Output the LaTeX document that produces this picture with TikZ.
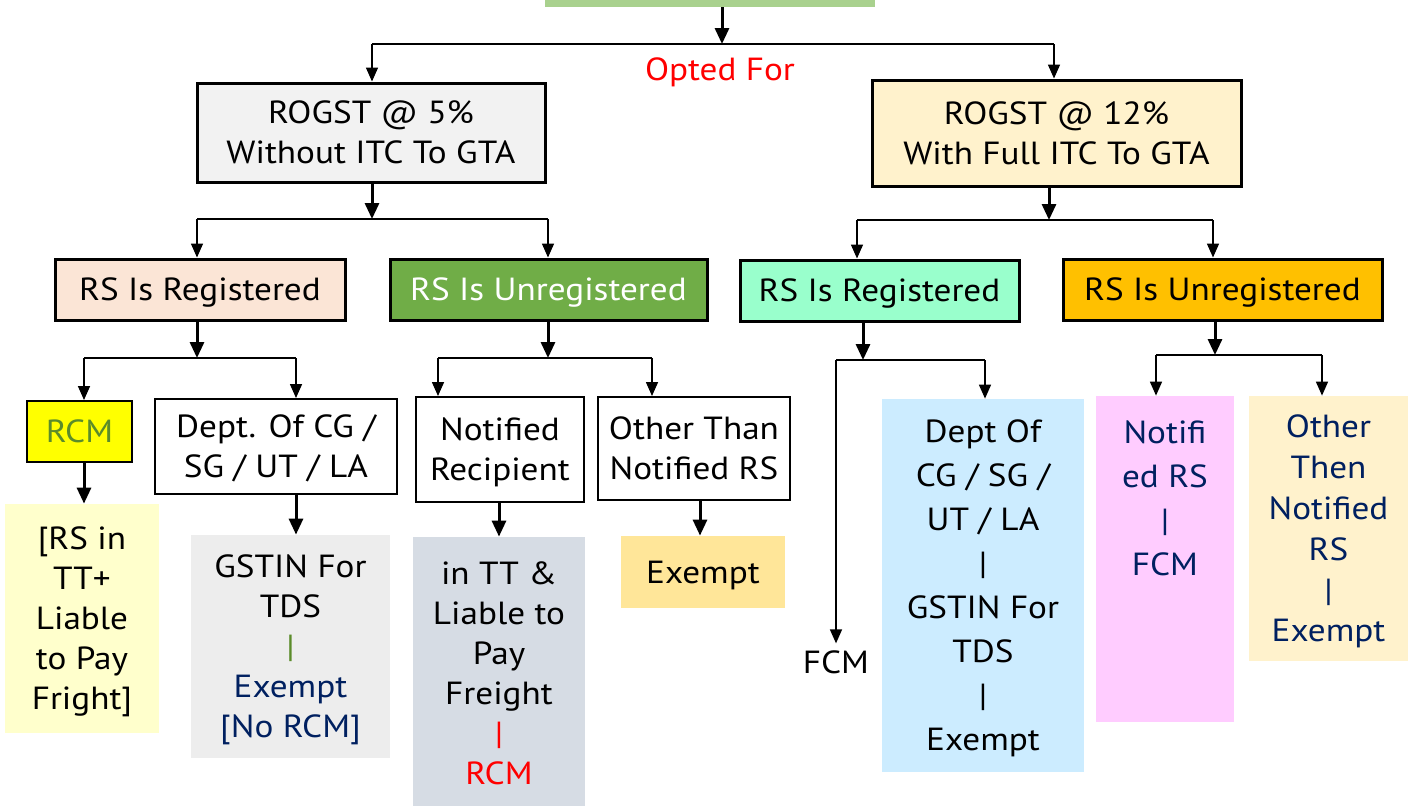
\documentclass[tikz,border=0pt]{standalone}
\usepackage{fontspec}
\setmainfont{PT Sans}[FakeStretch=1.1]
\usetikzlibrary{arrows.meta,calc}

\definecolor{topgreen}{HTML}{A9D18E}
\definecolor{boxgray}{HTML}{F2F2F2}
\definecolor{boxcream}{HTML}{FFF2CC}
\definecolor{peach}{HTML}{FBE5D6}
\definecolor{grass}{HTML}{70AD47}
\definecolor{mint}{HTML}{99FFCC}
\definecolor{amber}{HTML}{FFC000}
\definecolor{rcmyellow}{HTML}{FFFF00}
\definecolor{rcmgreen}{HTML}{5B8C2A}
\definecolor{paleyellow}{HTML}{FFFFCC}
\definecolor{lightgray}{HTML}{EDEDED}
\definecolor{slate}{HTML}{D6DCE4}
\definecolor{gold}{HTML}{FFE699}
\definecolor{sky}{HTML}{CCECFF}
\definecolor{pinkbox}{HTML}{FFCCFF}
\definecolor{navy}{HTML}{002060}

\newcommand{\txt}{\fontsize{16}{20}\selectfont}
\newcommand{\txtwide}{\fontsize{16}{22}\selectfont}

\begin{document}
\begin{tikzpicture}[x=0.5pt,y=-0.5pt,
  box/.style={draw=black, line width=1.5pt, inner sep=0pt, align=center, font=\txt, text depth=0pt},
  thinbox/.style={draw=black, line width=1pt, inner sep=0pt, align=center, font=\txt, text depth=0pt},
  leaf/.style={draw=none, inner sep=0pt, align=center, font=\txt, text depth=0pt},
  trunk/.style={line width=1.5pt, -{Triangle[width=7pt,length=8pt]}},
  branch/.style={line width=0.8pt},
  drop/.style={line width=0.8pt, -{Triangle[width=6pt,length=7pt]}}]

\useasboundingbox (0,0) rectangle (1415,805);
\begin{scope}
\clip (0,0) rectangle (1415,805);

% top-level box (cut by the page edge)
\node[fill=topgreen, minimum width=165pt, minimum height=13.5pt, inner sep=0pt] (top) at (710,-6.5) {};

% first level
\node[box, fill=boxgray, minimum width=174pt, minimum height=49.5pt] (r5) at (371,132.5) {ROGST @ 5\%\\Without ITC To GTA};
\node[box, fill=boxcream, minimum width=184.5pt, minimum height=53pt] (r12) at (1056.5,133) {ROGST @ 12\%\\With Full ITC To GTA};
\node[font=\txt, text=red] (opt) at (720,72) {Opted For};

% second level
\node[box, fill=peach, minimum width=145pt, minimum height=30.5pt] (regA) at (200,289.5) {RS Is Registered};
\node[box, fill=grass, text=white, minimum width=158.5pt, minimum height=30.5pt] (unregB) at (548.5,289.5) {RS Is Unregistered};
\node[box, fill=mint, minimum width=139.5pt, minimum height=30.5pt] (regC) at (879.5,290.5) {RS Is Registered};
\node[box, fill=amber, minimum width=159.5pt, minimum height=30.5pt] (unregD) at (1222.5,289.5) {RS Is Unregistered};

% third level (left half)
\node[thinbox, fill=rcmyellow, text=rcmgreen, minimum width=52.5pt, minimum height=30.5pt] (rcm) at (79.5,431.5) {RCM};
\node[thinbox, fill=white, minimum width=121pt, minimum height=47.5pt] (dept) at (276,446.5) {Dept. Of CG /\\SG / UT / LA};
\node[thinbox, fill=white, minimum width=84pt, minimum height=52.5pt] (notif) at (500,449.5) {Notified\\Recipient};
\node[thinbox, fill=white, minimum width=96pt, minimum height=51.5pt] (other) at (694,448.5) {Other Than\\Notified RS};

% outcomes (left half)
\node[leaf, fill=paleyellow, minimum width=77pt, minimum height=114.5pt] (rsin) at (82,618.5) {[RS in\\TT+\\Liable\\to Pay\\Fright]};
\node[leaf, fill=lightgray, minimum width=99.5pt, minimum height=111.5pt] (gstin) at (290.5,646.5)
  {GSTIN For\\TDS\\\textcolor{rcmgreen}{|}\\\textcolor{navy}{Exempt}\\\textcolor{navy}{[No RCM]}};
\node[leaf, fill=slate, minimum width=86pt, minimum height=136.5pt] (intt) at (499,673.5)
  {in TT \&\\Liable to\\Pay\\Freight\\\textcolor{red}{|}\\\textcolor{red}{RCM}};
\node[leaf, fill=gold, minimum width=82pt, minimum height=36pt] (ex1) at (703,572) {Exempt};

% outcomes (right half)
\node[font=\txt] (fcm) at (836,662) {FCM};
\node[leaf, font=\txtwide, fill=sky, minimum width=101pt, minimum height=186.5pt] (blue) at (983,585.5)
  {Dept Of\\CG / SG /\\UT / LA\\|\\GSTIN For\\TDS\\|\\Exempt};
\node[leaf, fill=pinkbox, minimum width=69pt, minimum height=163pt] (pink) at (1165,559) {};
\node[leaf, font=\txtwide, text=navy] (pinkt) at (1165,498) {Notifi\\ed RS\\|\\FCM};
\node[leaf, font=\fontsize{16}{20.4}\selectfont, fill=boxcream, text=navy, minimum width=79.5pt, minimum height=132.5pt] (cream) at (1328.5,528.5)
  {Other\\Then\\Notified\\RS\\|\\Exempt};

% junction points of the branch lines
\coordinate (jTop) at (722,44);
\coordinate (jR5) at (372,219);
\coordinate (jR12) at (1049,220);
\coordinate (jA) at (197,358);
\coordinate (jB) at (548,358);
\coordinate (jC) at (863,360);
\coordinate (jD) at (1215,355);
% x positions of the drops
\coordinate (xR5) at (372,0);
\coordinate (xR12) at (1054,0);
\coordinate (xA) at (197,0);
\coordinate (xB) at (548,0);
\coordinate (xC) at (857,0);
\coordinate (xD) at (1213,0);
\coordinate (xRcm) at (84,0);
\coordinate (xDept) at (296,0);
\coordinate (xNotif) at (438,0);
\coordinate (xOther) at (652,0);
\coordinate (xFcm) at (836,0);
\coordinate (xBlue) at (985,0);
\coordinate (xPink) at (1156,0);
\coordinate (xCream) at (1322,0);
\coordinate (xIntt) at (499,0);
\coordinate (xEx) at (700,0);

% top split
\draw[trunk] (jTop |- top.south) -- (jTop);
\draw[branch] (xR5 |- jTop) -- (xR12 |- jTop);
\draw[drop] (xR5 |- jTop) -- (xR5 |- r5.north);
\draw[drop] (xR12 |- jTop) -- (xR12 |- r12.north);

% 5% branch
\draw[trunk] (jR5 |- r5.south) -- (jR5);
\draw[branch] (xA |- jR5) -- (xB |- jR5);
\draw[drop] (xA |- jR5) -- (xA |- regA.north);
\draw[drop] (xB |- jR5) -- (xB |- unregB.north);

% 12% branch
\draw[trunk] (jR12 |- r12.south) -- (jR12);
\draw[branch] (xC |- jR12) -- (xD |- jR12);
\draw[drop] (xC |- jR12) -- (xC |- regC.north);
\draw[drop] (xD |- jR12) -- (xD |- unregD.north);

% registered (5%)
\draw[trunk] (jA |- regA.south) -- (jA);
\draw[branch] (xRcm |- jA) -- (xDept |- jA);
\draw[drop] (xRcm |- jA) -- (xRcm |- rcm.north);
\draw[drop] (xDept |- jA) -- (xDept |- dept.north);

% unregistered (5%)
\draw[trunk] (jB |- unregB.south) -- (jB);
\draw[branch] (xNotif |- jB) -- (xOther |- jB);
\draw[drop] (xNotif |- jB) -- (xNotif |- notif.north);
\draw[drop] (xOther |- jB) -- (xOther |- other.north);

% registered (12%)
\draw[trunk] (jC |- regC.south) -- (jC);
\draw[branch] (xFcm |- jC) -- (xBlue |- jC);
\draw[drop] (xFcm |- jC) -- (fcm.north);
\draw[drop] (xBlue |- jC) -- (xBlue |- blue.north);

% unregistered (12%)
\draw[trunk] (jD |- unregD.south) -- (jD);
\draw[branch] (xPink |- jD) -- (xCream |- jD);
\draw[drop] (xPink |- jD) -- (xPink |- pink.north);
\draw[drop] (xCream |- jD) -- (xCream |- cream.north);

% third level to outcomes
\draw[trunk] (xRcm |- rcm.south) -- (xRcm |- rsin.north);
\draw[trunk] (xDept |- dept.south) -- (xDept |- gstin.north);
\draw[trunk] (xIntt |- notif.south) -- (xIntt |- intt.north);
\draw[trunk] (xEx |- other.south) -- (xEx |- ex1.north);
\end{scope}
\end{tikzpicture}
\end{document}
